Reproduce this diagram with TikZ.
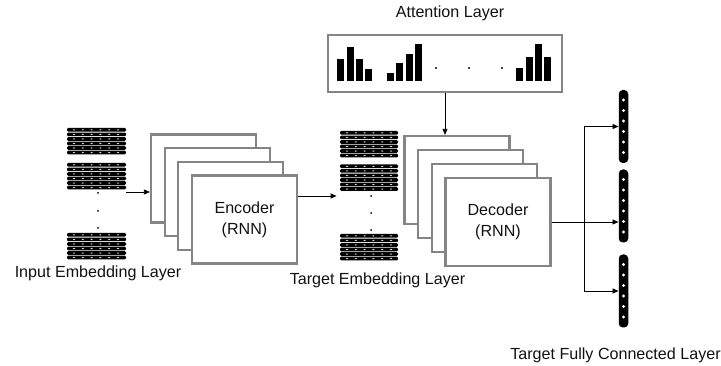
\documentclass[tikz,border=0pt]{standalone}
\usepackage{fontspec}
\setmainfont{Liberation Sans}
\usetikzlibrary{arrows.meta,fit}
\definecolor{boxgray}{HTML}{858585}
\definecolor{txt}{HTML}{111111}
\tikzset{
  rnnbox/.style={draw=boxgray, line width=2.2pt, fill=white, minimum width=105pt, minimum height=88pt, inner sep=0pt, align=center, text=txt},
  embblock/.style={minimum width=#1, minimum height=27pt, inner sep=0pt, fill=white,
    path picture={
      \foreach \i in {0,...,5}{
        \fill[black, rounded corners=1.2pt] ([shift={(0pt,-\i*4.55pt)}]path picture bounding box.north west) rectangle ++(#1,-3.7pt);
        \foreach \j in {0,...,5}{
          \fill[white!75!gray] ([shift={(\j*8.8pt+7pt,-\i*4.55pt-1.85pt)}]path picture bounding box.north west) ellipse (1.3pt and 0.6pt);
        }
      }}},
  fcvec/.style={fill=black, rounded corners=4pt, minimum width=9.5pt, minimum height=73pt, inner sep=0pt,
    path picture={
      \foreach \k in {0,...,5}{
        \fill[white] ([shift={(0pt,-10pt-\k*10.5pt)}]path picture bounding box.north) circle (1.6pt);
      }}},
  arr/.style={-{Triangle[length=6pt,width=5pt]}, line width=0.8pt, black},
  lbl/.style={text=txt, inner sep=0pt, font=\fontsize{16.1}{18}\selectfont},
  bar/.style={fill=black},
  edot/.style={fill=black, circle, inner sep=0pt, minimum size=2pt},
}
\begin{document}
\begin{tikzpicture}[x=1pt,y=-1pt]
\useasboundingbox (0,0) rectangle (721,366);

% input embedding blocks
\node[embblock=59pt] (in1) at (96.5,141.5) {};
\node[embblock=59pt] (in2) at (96.5,176.5) {};
\node[embblock=59pt] (in3) at (96.5,246.5) {};
\node[edot] (ind1) at (98,193) {};
\node[edot] (ind2) at (98,211) {};
\node[edot] (ind3) at (98,228) {};
\node[fit=(in1)(in3), inner sep=0pt] (incol) {};
\node[lbl] (inlbl) at (98,273) {Input Embedding Layer};

% encoder stack
\node[rnnbox] (e1) at (203.5,178.5) {};
\node[rnnbox] (e2) at (217.2,192.2) {};
\node[rnnbox] (e3) at (230.8,205.8) {};
\node[rnnbox, font=\fontsize{16.1}{21}\selectfont] (e4) at (244.5,219.5) {Encoder\\(RNN)};

% target embedding blocks
\node[embblock=58pt] (tg1) at (369,144.5) {};
\node[embblock=58pt] (tg2) at (369,178) {};
\node[embblock=58pt] (tg3) at (369,247.5) {};
\node[edot] (tgd1) at (371,196) {};
\node[edot] (tgd2) at (371,213) {};
\node[edot] (tgd3) at (371,230) {};
\node[fit=(tg1)(tg3), inner sep=0pt] (tgcol) {};
\node[lbl] (tglbl) at (377.5,280) {Target Embedding Layer};

% decoder stack
\node[rnnbox] (d1) at (457,180) {};
\node[rnnbox] (d2) at (470.7,194) {};
\node[rnnbox] (d3) at (484.3,208) {};
\node[rnnbox, font=\fontsize{16.1}{21}\selectfont] (d4) at (498,222) {Decoder\\(RNN)};

% attention layer
\node[draw=boxgray, line width=2.2pt, minimum width=234pt, minimum height=57pt, inner sep=0pt] (att) at (445,63.5) {};
\node[lbl] (attlbl) at (450,13) {Attention Layer};
\foreach \x/\t in {337/59,347/47,356/59,365/69,387/73,396/63,406/54,415/44,516/68,526/57,535/44,544/57}{
  \fill[bar] (\x,\t) rectangle ++(6.5,81-\t);
}
\foreach \x in {436,469,502}{
  \fill (\x,68) circle (1.2);
}

% fully connected vectors
\node[fcvec] (fc1) at (623.5,126.5) {};
\node[fcvec] (fc2) at (623.5,206) {};
\node[fcvec] (fc3) at (623.5,291) {};
\node[lbl] (fclbl) at (615.5,355) {Target Fully Connected Layer};

% connectors
\draw[arr] ([yshift=2pt]incol.east) -- ([yshift=2pt]e1.west |- incol.east);
\draw[arr, shorten >=3pt] (e4.east |- tgcol.west) -- (tgcol.west);
\draw[arr] (att.south) -- (att.south |- d1.north);
\coordinate (br) at (584,222);
\draw[arr] (d4.east) -- (fc2.west |- d4.east);
\draw[line width=0.8pt] (br |- fc1.west) -- (br |- fc3.west);
\draw[arr] (br |- fc1.west) -- (fc1.west);
\draw[arr] (br |- fc3.west) -- (fc3.west);
\end{tikzpicture}
\end{document}
